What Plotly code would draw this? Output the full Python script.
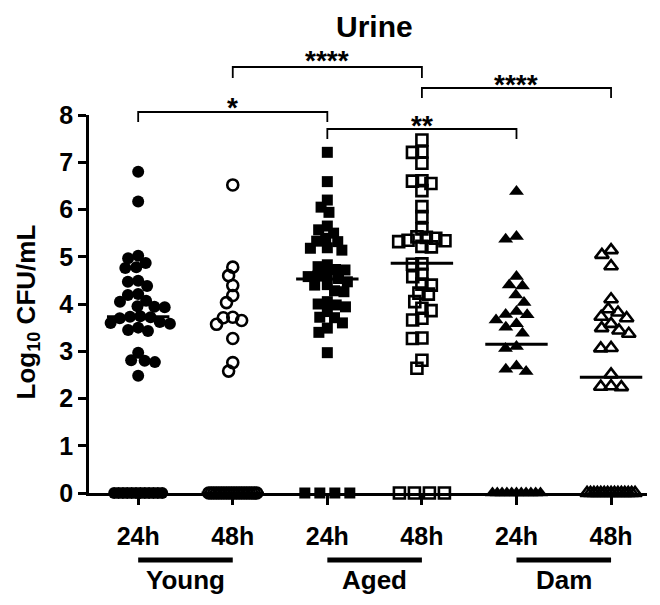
import numpy as np
import plotly.graph_objects as go

# ---------------- data ----------------
categories = ["24h", "48h", "24h", "48h", "24h", "48h"]
groups = ["Young", "Aged", "Dam"]
y_ticks = [0, 1, 2, 3, 4, 5, 6, 7, 8]

young_24h = [6.80, 6.17, 5.02, 4.97, 4.87, 4.76, 4.78, 4.47, 4.49, 4.38, 4.19, 4.21,
             4.05, 4.07, 3.94, 3.95, 3.93, 3.72, 3.73, 3.74, 3.70, 3.62, 3.58, 3.60,
             3.45, 3.43, 3.50, 2.97, 2.80, 2.77, 2.81, 2.48,
             0, 0, 0, 0, 0, 0, 0, 0, 0, 0, 0, 0]
young_48h = [6.52, 4.78, 4.60, 4.39, 4.18, 4.03, 3.71, 3.65, 3.57, 3.72, 3.27, 2.76, 2.58,
             0, 0, 0, 0, 0, 0, 0, 0, 0, 0, 0, 0, 0, 0, 0, 0, 0, 0, 0, 0]
aged_24h = [7.21, 6.59, 6.20, 5.94, 6.05, 5.57, 5.65, 5.50, 5.39, 5.32, 5.33, 5.18,
            5.14, 5.19, 4.83, 4.79, 4.72, 4.73, 4.58, 4.54, 4.59, 4.62, 4.47, 4.40,
            4.41, 4.26, 4.28, 4.00, 3.94, 4.05, 3.98, 3.84, 3.72, 3.60, 3.71, 3.49,
            3.40, 2.97,
            0, 0, 0, 0]
aged_48h = [7.47, 7.21, 7.22, 6.98, 6.60, 6.55, 6.61, 6.40, 6.06, 5.85, 5.59, 5.41,
            5.32, 5.34, 5.42, 5.39, 5.21, 5.22, 5.35, 4.84, 4.85, 4.58, 4.63, 4.42,
            4.40, 4.23, 4.21, 4.05, 3.91, 3.70, 3.66, 3.86, 3.27, 3.28, 2.81, 2.64,
            0, 0, 0, 0]
dam_24h = [6.38, 5.37, 5.43, 4.58, 4.38, 4.40, 4.19, 4.03, 3.77, 3.84, 3.78, 3.66,
           3.58, 3.51, 3.38, 3.06, 3.10, 2.62, 2.57, 2.69,
           0, 0, 0, 0, 0, 0, 0, 0, 0, 0, 0]
dam_48h = [5.04, 4.80, 5.14, 4.10, 3.73, 3.89, 3.82, 3.70, 3.58, 3.49, 3.44, 3.37,
           3.06, 3.07, 2.51, 2.25, 2.26, 2.24,
           0, 0, 0, 0, 0, 0, 0, 0, 0, 0, 0, 0, 0, 0, 0]
medians = [3.73, 0.0, 4.53, 4.86, 3.15, 2.45]

series = [young_24h, young_48h, aged_24h, aged_48h, dam_24h, dam_48h]

comparisons = [(0, 2, "*"), (1, 3, "****"), (2, 4, "**"), (3, 5, "****")]

# ---------------- layout constants ----------------
# the page body has an 8px margin, so the figure is offset by 8px on screen
OFF = 8
W, H = 660 - 2 * OFF, 605 - 2 * OFF
PLOT_L, PLOT_R, PLOT_T, PLOT_B = 89, 647, 115, 493      # wanted screen positions
ML, MT = PLOT_L - OFF, PLOT_T - OFF
MR, MB = W - (PLOT_R - OFF), H - (PLOT_B - OFF)
X_RANGE = [-0.52, 5.38]
Y_RANGE = [0, 8]
PW, PH = PLOT_R - PLOT_L, PLOT_B - PLOT_T
SX = PW / (X_RANGE[1] - X_RANGE[0])   # px per x unit
SY = PH / (Y_RANGE[1] - Y_RANGE[0])   # px per y unit
FONT = "Liberation Sans, Arial, sans-serif"

symbols = ["circle", "circle-open", "square", "square-open", "triangle-up", "triangle-up-open"]
sizes = [12, 11, 11, 11, 13, 12]


def paper_y(py):
    """screen pixel row -> paper coordinate"""
    return (PLOT_B - py) / PH


def paper_x(px):
    return (px - PLOT_L) / PW


def swarm(vals, d_px, row_gap_px, max_half_px):
    """deterministic beeswarm offsets (in x data units)"""
    vals = np.asarray(vals, dtype=float)
    xs = np.zeros(len(vals))
    zero_idx = [i for i in range(len(vals)) if vals[i] == 0]
    nz = len(zero_idx)
    if nz > 1:
        step = min(row_gap_px, 2 * max_half_px / (nz - 1))
        for k, i in enumerate(zero_idx):
            xs[i] = (k - (nz - 1) / 2) * step
    ys = vals * SY
    placed = []
    for i in np.argsort(-ys, kind="stable"):
        if vals[i] == 0:
            continue
        y = ys[i]
        cands = [0.0]
        for px, py in placed:
            dy = abs(py - y)
            if dy < d_px:
                dx = np.sqrt(d_px ** 2 - dy ** 2)
                cands += [px + dx, px - dx]
        cands = sorted(cands, key=lambda c: (abs(c), c))
        for c in cands:
            if all((c - px) ** 2 + (y - py) ** 2 >= d_px ** 2 - 1e-6 for px, py in placed):
                xs[i] = c
                break
        placed.append((xs[i], y))
    return xs / SX


fig = go.Figure()

for k, vals in enumerate(series):
    offs = swarm(vals, d_px=sizes[k] * 0.86, row_gap_px=15, max_half_px=24)
    open_sym = symbols[k].endswith("open")
    fig.add_trace(go.Scatter(
        x=k + offs, y=vals, mode="markers", cliponaxis=False, showlegend=False,
        marker=dict(symbol=symbols[k], size=sizes[k], color="black",
                    line=dict(color="black", width=2.6 if open_sym else 0)),
    ))

for k, m in enumerate(medians):
    fig.add_trace(go.Scatter(
        x=[k - 0.33, k + 0.33], y=[m, m], mode="lines", cliponaxis=False,
        showlegend=False, line=dict(color="black", width=3),
    ))

shapes = []
annotations = []

# significance brackets: (bar row, leg end, text centre) as screen rows
bracket_px = {(0, 2): (112, 122, 101), (1, 3): (67, 78, 55),
              (2, 4): (129, 139, 119), (3, 5): (88, 98, 78)}
for a, b, label in comparisons:
    bar, leg, txt = bracket_px[(a, b)]
    shapes.append(dict(type="path", xref="x", yref="paper",
                       path=f"M {a},{paper_y(leg)} L {a},{paper_y(bar)} L {b},{paper_y(bar)} L {b},{paper_y(leg)}",
                       line=dict(color="black", width=1.8)))
    annotations.append(dict(x=(a + b) / 2, y=paper_y(txt), xref="x", yref="paper",
                            text=label, showarrow=False, yanchor="middle", yshift=-6,
                            font=dict(family=FONT, size=28, color="black", weight="bold")))

# group bars and labels
for g, name in enumerate(groups):
    a, b = 2 * g, 2 * g + 1
    shapes.append(dict(type="line", xref="x", yref="paper", x0=a, x1=b,
                       y0=paper_y(560), y1=paper_y(560),
                       line=dict(color="black", width=5)))
    annotations.append(dict(x=(a + b) / 2, y=paper_y(597), xref="x", yref="paper",
                            text=name, showarrow=False, yanchor="bottom",
                            font=dict(family=FONT, size=26, color="black", weight="bold")))

# title (top of box at top of figure) and y axis title
annotations.append(dict(x=paper_x(374), y=paper_y(OFF), xref="paper", yref="paper",
                        text="Urine", showarrow=False, yanchor="top", xanchor="center",
                        font=dict(family=FONT, size=30, color="black", weight="bold")))
annotations.append(dict(x=paper_x(OFF), y=paper_y(312), xref="paper", yref="paper",
                        text="Log<sub>10</sub> CFU/mL", showarrow=False, textangle=-90,
                        yanchor="middle", xanchor="left",
                        font=dict(family=FONT, size=26, color="black", weight="bold")))

fig.update_layout(
    width=W, height=H, margin=dict(l=ML, r=MR, t=MT, b=MB),
    paper_bgcolor="white", plot_bgcolor="white",
    shapes=shapes, annotations=annotations,
    xaxis=dict(range=X_RANGE, tickmode="array", tickvals=list(range(6)), ticktext=categories,
               showline=True, linecolor="black", linewidth=2.5, ticks="outside",
               ticklen=9, tickwidth=2.5, tickcolor="black", showgrid=False, zeroline=False,
               ticklabelstandoff=10,
               tickfont=dict(family=FONT, size=25, color="black", weight="bold")),
    yaxis=dict(range=Y_RANGE, tickmode="array", tickvals=y_ticks,
               showline=True, linecolor="black", linewidth=2.5, ticks="outside",
               ticklen=8, tickwidth=2.5, tickcolor="black", showgrid=False, zeroline=False,
               tickfont=dict(family=FONT, size=25, color="black", weight="bold")),
)

fig.write_html("out.html")
